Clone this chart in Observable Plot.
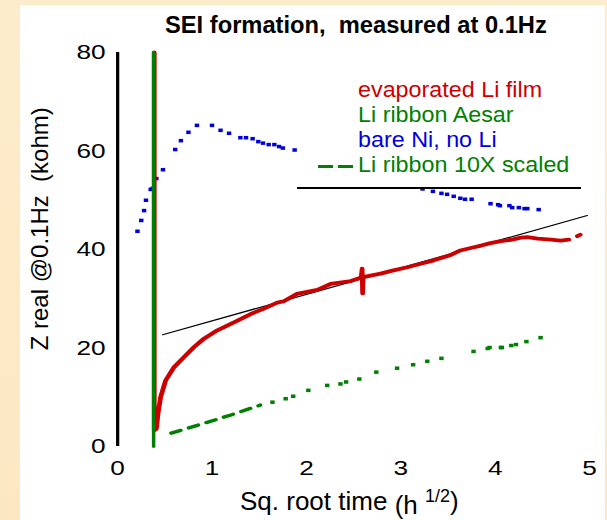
<!DOCTYPE html>
<html><head><meta charset="utf-8">
<script src="https://cdn.jsdelivr.net/npm/d3@7"></script>
<script src="https://cdn.jsdelivr.net/npm/@observablehq/plot@0.6"></script>
<style>
body{margin:0;background:#fcebc8;font-family:"Liberation Sans",Arial,sans-serif;}
#wrap{position:relative;width:607px;height:520px;overflow:hidden;background:linear-gradient(180deg,#fdeccb,#fbe8c3);}
#panel{position:absolute;left:20px;top:5px;width:585px;height:515px;background:#fff;}
.t{position:absolute;white-space:pre;line-height:1;transform-origin:0 0;}
</style></head><body>
<div id="wrap"><div id="panel"></div><div id="chart" style="position:absolute;left:0;top:0"></div></div>
<script>
// ---- data ----
const xTicks = [0, 1, 2, 3, 4, 5];
const yTicks = [0, 20, 40, 60, 80];
const titleText = "SEI formation,  measured at 0.1Hz";
const yLabelText = "Z real @0.1Hz  (kohm)";
const seriesNames = ["evaporated Li film", "Li ribbon Aesar", "bare Ni, no Li", "Li ribbon 10X scaled"];
const seriesColors = ["#cc0000", "#008000", "#0000dd", "#008000"];

// evaporated Li film (red)
const filmX = [0.3877, 0.3877, 0.41, 0.427, 0.455, 0.508, 0.597, 0.70, 0.81, 0.914, 1.056, 1.232, 1.409, 1.55, 1.69, 1.76, 1.90, 2.115, 2.256, 2.47, 2.58, 2.59, 2.595, 2.60, 2.786, 2.91, 3.07, 3.19, 3.35, 3.53, 3.63, 3.74, 3.85, 3.95, 4.06, 4.18, 4.27, 4.34, 4.45, 4.59, 4.69, 4.78, 4.82, 4.87, 4.90];
const filmY = [80, 3.3, 3.6, 6.6, 10.0, 13.4, 16.1, 18.1, 20.2, 21.9, 23.6, 25.2, 26.9, 28.0, 29.2, 29.5, 31.0, 31.8, 33.0, 33.6, 34.3, 36.1, 31.1, 34.4, 35.1, 35.7, 36.4, 37.0, 37.8, 38.9, 39.8, 40.3, 40.8, 41.3, 41.7, 42.0, 42.4, 42.5, 42.2, 42.0, 41.8, 42.0, NaN, 42.7, 43.0];
// Li ribbon Aesar (green vertical)
const aesarX = [0.381, 0.381];
const aesarY = [0, 80];
// bare Ni, no Li (blue dots)
const niX = [0.21, 0.25, 0.28, 0.30, 0.35, 0.37, 0.41, 0.48, 0.61, 0.67, 0.75, 0.84, 1.00, 1.09, 1.18, 1.30, 1.36, 1.43, 1.49, 1.54, 1.60, 1.66, 1.71, 1.75, 1.875, 3.23, 3.34, 3.43, 3.49, 3.56, 3.63, 3.68, 3.75, 3.95, 4.03, 4.05, 4.15, 4.18, 4.25, 4.31, 4.34, 4.46];
const niY = [43.7, 45.9, 47.9, 50.0, 52.2, 52.4, 54.4, 56.2, 60.3, 62.1, 63.8, 65.2, 65.2, 64.2, 63.6, 62.7, 62.7, 62.5, 61.9, 61.6, 61.3, 61.3, 60.9, 60.6, 60.2, 52.3, 51.8, 51.4, 51.2, 50.8, 50.4, 50.2, 50.2, 49.3, 49.1, 48.9, 48.9, 48.5, 48.5, 48.3, 48.3, 48.1];
// Li ribbon 10X scaled (green dashed part + dots)
const scaledLineX = [0.568, 0.897, 1.2, 1.51];
const scaledLineY = [2.7, 4.6, 6.4, 8.4];
const scaledDotX = [1.64, 1.78, 1.86, 2.02, 2.22, 2.36, 2.42, 2.56, 2.74, 2.96, 3.13, 3.28, 3.43, 3.77, 3.92, 3.94, 4.06, 4.07, 4.17, 4.22, 4.33, 4.48];
const scaledDotY = [9.0, 9.7, 10.2, 11.4, 12.4, 12.7, 13.1, 13.7, 15.1, 15.9, 16.6, 17.3, 17.9, 19.3, 19.9, 20.1, 20.1, 20.1, 20.5, 20.7, 21.3, 22.1];
// linear fit (black)
const fitX = [0.477, 4.975];
const fitY = [22.7, 46.9];

const pts = (xs, ys) => xs.map((x, i) => ({x, y: ys[i]}));
const film = pts(filmX, filmY), aesar = pts(aesarX, aesarY), ni = pts(niX, niY);
const scaledLine = pts(scaledLineX, scaledLineY), scaledDots = pts(scaledDotX, scaledDotY), fit = pts(fitX, fitY);

// ---- chart (drawn in a 486-wide space and stretched to 607, like the reference) ----
const W = 486, H = 520, OUTW = 607;
const FONT = '"Liberation Sans", Arial, Helvetica, sans-serif';
const svg = Plot.plot({
  width: W, height: H,
  marginLeft: 93.7, marginRight: 14.4, marginTop: 52, marginBottom: 74,
  x: {domain: [0, 5]},
  y: {domain: [0, 80]},
  style: {background: "transparent", fontFamily: FONT, fontSize: "21px", color: "#000", overflow: "visible"},
  marks: [
    Plot.axisX({ticks: xTicks, tickSize: 0, tickPadding: 14, fontSize: 21, label: null, tickFormat: d => String(d)}),
    Plot.axisY({ticks: yTicks, tickSize: 0, tickPadding: 9.6, fontSize: 21, label: null, tickFormat: d => String(d)}),
    Plot.ruleX([0], {y1: 0, y2: 80, stroke: "#000", strokeWidth: 2.6}),
    Plot.line(fit, {x: "x", y: "y", stroke: "#000", strokeWidth: 1.2}),
    Plot.line(scaledLine, {x: "x", y: "y", stroke: seriesColors[3], strokeWidth: 3.4, strokeDasharray: "8,7"}),
    Plot.dot(scaledDots, {x: "x", y: "y", symbol: "square", r: 2.0, fill: seriesColors[3], stroke: null}),
    Plot.dot(ni, {x: "x", y: "y", symbol: "square", r: 2.0, fill: seriesColors[2], stroke: null}),
    Plot.line(film, {x: "x", y: "y", stroke: seriesColors[0], strokeWidth: 3.8}),
    Plot.line(aesar, {x: "x", y: "y", stroke: seriesColors[1], strokeWidth: 2.8})
  ]
});
svg.setAttribute("width", OUTW);
svg.setAttribute("height", H);
svg.setAttribute("preserveAspectRatio", "none");
svg.style.width = OUTW + "px";
svg.style.height = H + "px";
svg.style.maxWidth = "none";
document.getElementById("chart").appendChild(svg);

// ---- text overlays ----
const wrap = document.getElementById("wrap");
function place(html, left, baseline, size, extra = {}) {
  const d = document.createElement("div");
  d.className = "t";
  d.innerHTML = html;
  d.style.fontSize = size + "px";
  d.style.left = left + "px";
  d.style.top = (baseline - 0.8465 * size) + "px";
  Object.assign(d.style, extra);
  wrap.appendChild(d);
  return d;
}
// title
place(titleText, 165, 33, 23, {fontWeight: "bold", transform: "scaleX(1.03)"});
// legend
const legendBaselines = [98, 123, 148, 173];
seriesNames.forEach((n, i) => place(n, 358, legendBaselines[i], 22, {color: seriesColors[i], transform: "scaleX(1.06)"}));
const dash = document.createElement("div");
Object.assign(dash.style, {position: "absolute", left: "318px", top: "164.5px", width: "35px", height: "3.3px",
  background: "repeating-linear-gradient(to right, #008000 0 15px, transparent 15px 20px)"});
wrap.appendChild(dash);
const legendLine = document.createElement("div");
Object.assign(legendLine.style, {position: "absolute", left: "297px", top: "187px", width: "284px", height: "2px", background: "#000"});
wrap.appendChild(legendLine);
// x label
place('Sq. root time <span style="position:relative;top:4px">(h</span> <span style="position:relative;top:-8px;font-size:18px">1/2</span>)', 240, 510, 26);
// y label
place(yLabelText, 48, 350, 24, {transformOrigin: "0 " + (0.8465 * 24) + "px", transform: "rotate(-90deg)"});
</script>
</body></html>
